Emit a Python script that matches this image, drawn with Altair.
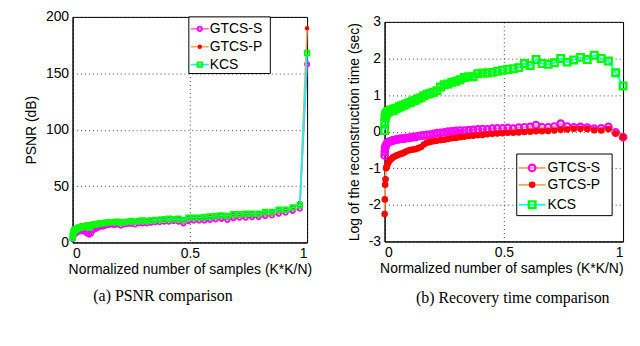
import altair as alt
import pandas as pd

SERIES = ["GTCS-S", "GTCS-P", "KCS"]

# normalized number of samples (K*K/N)
X = [0.0002, 0.001, 0.0022, 0.0039, 0.0061, 0.0088, 0.012, 0.0156, 0.0198, 0.0244,
     0.0295, 0.0352, 0.0413, 0.0479, 0.0549, 0.0625, 0.0706, 0.0791, 0.0881, 0.0977,
     0.1077, 0.1182, 0.1292, 0.1406, 0.1526, 0.165, 0.178, 0.1914, 0.2053, 0.2197,
     0.2346, 0.25, 0.2659, 0.2822, 0.2991, 0.3164, 0.3342, 0.3525, 0.3713, 0.3906,
     0.4104, 0.4307, 0.4514, 0.4727, 0.4944, 0.5166, 0.5393, 0.5625, 0.5862, 0.6104,
     0.635, 0.6602, 0.6858, 0.7119, 0.7385, 0.7656, 0.7932, 0.8213, 0.8499, 0.8789,
     0.9084, 0.9385, 0.969, 1.0]

PSNR_S = [3, 4, 5, 6, 7, 8, 8, 9, 9, 10,
          10, 10, 11, 10, 9, 8, 7, 8, 11, 12,
          13, 14, 14, 15, 15.5, 16, 15.5, 16, 15, 16,
          16.5, 16.5, 16, 17, 17, 17, 17.5, 18, 18, 18.5,
          18.5, 19, 18.5, 17, 19, 19.5, 19.5, 19.5, 20, 20.5,
          21, 20, 21.5, 22, 22, 22.5, 22.5, 23.5, 24, 25.5,
          26.5, 28, 30, 158]
PSNR_P = [5, 7, 9, 10, 11, 12, 12, 13, 13, 14,
          14, 15, 15, 14, 15, 16, 14, 16, 16, 17,
          17, 17.5, 17, 18, 18.5, 18, 19, 19, 18, 18.5,
          19, 19.5, 19, 20, 19.5, 20, 20, 20.5, 21, 20.5,
          21, 21, 21.5, 20.5, 22, 22, 22.5, 22, 23, 23,
          23.5, 23.5, 24.5, 24.5, 25, 25, 25.5, 26.5, 27, 28.5,
          29, 31, 35, 190]
PSNR_K = [4, 6, 8, 9, 10, 11, 11, 12, 12, 13,
          13, 13, 14, 14, 14, 15, 13, 15, 16, 16,
          16.5, 17, 17, 17.5, 18, 18, 18, 18.5, 17.5, 18,
          18.5, 19, 18.5, 19, 19.5, 19, 19.5, 20, 20, 20.5,
          21, 20.5, 21, 20, 22, 22, 22, 22.5, 23, 23.5,
          24, 23.5, 25, 25, 25.5, 25.5, 25.5, 27, 27, 29,
          29, 31, 33, 168]

TIME_S = [-0.65, -0.55, -0.45, -0.40, -0.36, -0.33, -0.30, -0.29, -0.27, -0.26,
          -0.25, -0.24, -0.23, -0.22, -0.21, -0.20, -0.19, -0.19, -0.18, -0.17,
          -0.16, -0.15, -0.14, -0.12, -0.11, -0.10, -0.09, -0.08, -0.06, -0.04,
          -0.03, -0.02, 0.0, 0.01, 0.02, 0.03, 0.03, 0.04, 0.05, 0.06,
          0.07, 0.06, 0.08, 0.09, 0.09, 0.10, 0.08, 0.11, 0.12, 0.13,
          0.18, 0.12, 0.12, 0.14, 0.22, 0.14, 0.12, 0.13, 0.11, 0.08,
          0.09, 0.13, -0.02, -0.15]
TIME_P = [-2.25, -1.85, -1.45, -1.3, -1.0, -0.95, -0.9, -0.85, -0.80, -0.76,
          -0.74, -0.70, -0.68, -0.66, -0.64, -0.62, -0.60, -0.58, -0.55, -0.52,
          -0.50, -0.49, -0.48, -0.45, -0.42, -0.35, -0.30, -0.28, -0.26, -0.25,
          -0.23, -0.22, -0.20, -0.18, -0.17, -0.15, -0.14, -0.12, -0.11, -0.10,
          -0.09, -0.07, -0.06, -0.05, -0.04, -0.03, -0.03, -0.02, -0.01, 0.0,
          0.01, 0.01, 0.02, 0.03, 0.05, 0.06, 0.08, 0.08, 0.07, 0.04,
          0.03, 0.07, -0.05, -0.15]
TIME_K = [0.03, 0.25, 0.38, 0.45, 0.48, 0.50, 0.53, 0.55, 0.56, 0.58,
          0.60, 0.58, 0.62, 0.63, 0.65, 0.68, 0.70, 0.72, 0.75, 0.78,
          0.80, 0.84, 0.86, 0.90, 0.93, 0.98, 1.02, 1.05, 1.08, 1.12,
          1.22, 1.28, 1.30, 1.35, 1.38, 1.42, 1.48, 1.50, 1.50, 1.58,
          1.60, 1.60, 1.62, 1.65, 1.68, 1.70, 1.72, 1.75, 1.86, 1.81,
          1.97, 1.86, 1.84, 1.88, 2.0, 1.9, 1.96, 2.03, 1.97, 2.09,
          2.0, 1.93, 1.61, 1.25]

CAPTIONS = ["(a) PSNR comparison", "(b) Recovery time comparison"]
X_TITLE = "Normalized number of samples (K*K/N)"
Y_TITLES = ["PSNR (dB)", "Log of the reconstruction time (sec)"]

FONT = "Liberation Sans"
SERIF = "Liberation Serif"


def one(d):
    return pd.DataFrame({"s": [d]})


def panel(values, ydomain, yticks, w, h, ytitle, styles, msize, leg, caption, cap_xy, title_anchor):
    xaxis = alt.Axis(values=[0, 0.5, 1], title=X_TITLE, grid=True, labelExpr="'' + datum.value",
                     titleAnchor=title_anchor, titlePadding=2)
    yaxis = alt.Axis(values=yticks, title=ytitle, grid=True, labelExpr="'' + datum.value",
                     titlePadding=7)
    xs = alt.Scale(domain=[0, 1], nice=False)
    ys = alt.Scale(domain=ydomain, nice=False)
    layers = []
    for name, vals in zip(SERIES, values):
        df = pd.DataFrame({"x": X, "y": vals})
        st = styles[name]
        enc = dict(x=alt.X("x:Q", scale=xs, axis=xaxis), y=alt.Y("y:Q", scale=ys, axis=yaxis))
        layers.append(alt.Chart(df).mark_line(color=st["line"], strokeWidth=st["lw"]).encode(**enc))
        layers.append(alt.Chart(df).mark_point(shape=st["shape"], filled=st["filled"], color=st["mark"],
                                               size=msize, strokeWidth=st["mw"], opacity=1).encode(**enc))
    # legend box
    bx0, by0, bx1, by1, lx0, lx1, tx, ys_ = leg
    layers.append(alt.Chart(one("box")).mark_rect(fill="white", stroke="black", strokeWidth=1).encode(
        x=alt.value(bx0), x2=alt.value(bx1), y=alt.value(by0), y2=alt.value(by1)))
    for name, yy in zip(SERIES, ys_):
        st = styles[name]
        d = one(name)
        layers.append(alt.Chart(d).mark_rule(color=st["line"], strokeWidth=st["lw"]).encode(
            x=alt.value(lx0), x2=alt.value(lx1), y=alt.value(yy)))
        layers.append(alt.Chart(d).mark_point(shape=st["shape"], filled=st["filled"], color=st["mark"],
                                              size=msize, strokeWidth=st["mw"], opacity=1).encode(
            x=alt.value((lx0 + lx1) / 2), y=alt.value(yy)))
        layers.append(alt.Chart(d).mark_text(align="left", baseline="middle", font=FONT, fontSize=14,
                                             color="black").encode(
            x=alt.value(tx), y=alt.value(yy), text="s:N"))
    layers.append(alt.Chart(one(caption)).mark_text(align="center", baseline="middle", font=SERIF,
                                                    fontSize=16, color="black").encode(
        x=alt.value(cap_xy[0]), y=alt.value(cap_xy[1]), text="s:N"))
    return alt.layer(*layers).properties(width=w, height=h)


ORANGE = "#F6A45E"
left_styles = {
    "GTCS-S": dict(line="#FF66D9", lw=1.6, shape="circle", filled=False, mark="#FF00FF", mw=1.8),
    "GTCS-P": dict(line=ORANGE, lw=1.6, shape="circle", filled=True, mark="#FF0000", mw=1),
    "KCS": dict(line="#00FFFF", lw=1.6, shape="square", filled=False, mark="#00FF00", mw=2),
}
right_styles = {
    "GTCS-S": dict(line=ORANGE, lw=1.8, shape="circle", filled=False, mark="#FF00FF", mw=2.2),
    "GTCS-P": dict(line=ORANGE, lw=1.8, shape="circle", filled=True, mark="#FF0000", mw=1),
    "KCS": dict(line="#00FFFF", lw=1.8, shape="square", filled=False, mark="#00FF00", mw=2.4),
}

LW, LH = 236, 227
RW, RH = 240, 221

left = panel([PSNR_S, PSNR_P, PSNR_K], [0, 200], [0, 50, 100, 150, 200], LW, LH, Y_TITLES[0],
             left_styles, 20, (117, 0, 199, 57, 119, 137, 138, [12, 30, 48]),
             CAPTIONS[0], (91, LH + 54), "middle")
right = panel([TIME_S, TIME_P, TIME_K], [-3, 3], [-3, -2, -1, 0, 1, 2, 3], RW, RH, Y_TITLES[1],
              right_styles, 44, (133, 133, 229, 195, 135, 162, 164, [147, 164, 184]),
              CAPTIONS[1], (129, RH + 57), "end")

spacer = alt.Chart(one("sp")).mark_point(opacity=0).encode(
    x=alt.value(0), y=alt.value(0)).properties(width=RW, height=5, view=alt.ViewBackground(stroke="transparent"))

right_col = alt.vconcat(spacer, right, spacing=0, bounds="flush")

chart = alt.hconcat(left, right_col, spacing=78, bounds="flush").properties(
    padding={"left": 16, "top": 0, "right": 0, "bottom": 0}
).configure_view(stroke="black", strokeWidth=1).configure_axis(
    domainColor="black", domainWidth=1, labelColor="black", titleColor="black",
    labelFont=FONT, titleFont=FONT, labelFontSize=14, titleFontSize=14, titleFontWeight="normal",
    ticks=False, gridColor="black", gridDash=[1, 3], gridOpacity=0.75, gridWidth=1,
    labelPadding=4
)

chart.save("out.html", embed_options={"renderer": "svg", "actions": False})
